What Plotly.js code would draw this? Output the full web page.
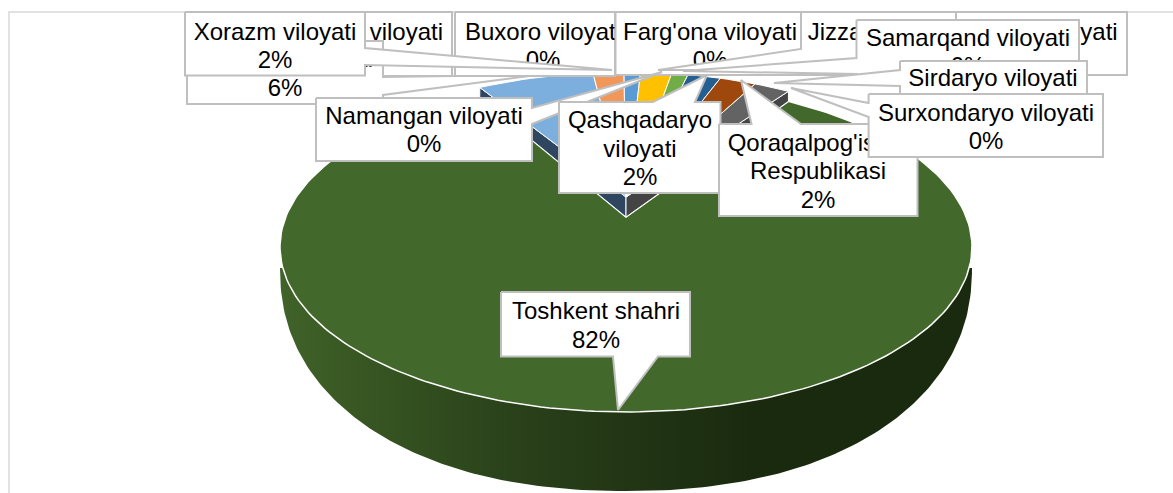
<!DOCTYPE html>
<html>
<head>
<meta charset="utf-8">
<script src="https://cdn.plot.ly/plotly-3.0.1.min.js"></script>
<style>html,body{margin:0;padding:0;background:#fff}</style>
</head>
<body>
<div id="chart" style="width:1173px;height:493px"></div>
<script>
// Data: slices on the small wedge, clockwise from its left edge
const wedgeRegions = ["Toshkent viloyati","Xorazm viloyati","Andijon viloyati","Qashqadaryo viloyati","Buxoro viloyati","Namangan viloyati","Qoraqalpog'iston Respublikasi","Surxondaryo viloyati"];
const wedgeValues = [6.4,1.7,0.9,1.7,0.9,1.8,2.0,2.0];
const wedgeColors = ["#7CAFDD","#F1975A","#5B9BD5","#FFC000","#70AD47","#255E91","#9E480E","#636363"];
const mainRegion = "Toshkent shahri";
const mainValue = 82;
const mainColor = "#43682B";

// Data labels, bottom-most first, with the percentage shown in the picture
const labelNames = [["Andijon viloyati"],["Toshkent viloyati"],["Buxoro viloyati"],["Farg'ona viloyati"],["Jizzax viloyati"],["Navoiy viloyati"],["Xorazm viloyati"],["Namangan viloyati"],["Qashqadaryo","viloyati"],["Qoraqalpog'iston","Respublikasi"],["Samarqand viloyati"],["Sirdaryo viloyati"],["Surxondaryo viloyati"],["Toshkent shahri"]];
const labelPercents = ["0%","6%","0%","0%","0%","0%","2%","0%","2%","2%","0%","0%","0%","82%"];

// Callout geometry in page pixels: box, text centre, optional tail
const labelBoxes = [
 {b:[273,12,452,76],c:[363,46]},
 {b:[187,41,383,104],c:[285,73.5],edge:'r',t:[[383,77],[537,75],[383,95]]},
 {b:[455,12,615,76],c:[543,46]},
 {b:[615.5,12,801,75],c:[710,46]},
 {b:[801,12,961,75],c:[881,46],edge:'l',t:[[801,70],[658,70],[801,49]]},
 {b:[956,12,1127,75],c:[1041,46]},
 {b:[185,12,365,75.5],c:[275,46],edge:'r',t:[[365,48],[612,70],[365,65]]},
 {b:[316,98,532,161],c:[424,130],edge:'r',t:[[532,108],[662,72],[532,124]]},
 {b:[559,102,720.5,193],c:[640,148.5],edge:'t',t:[[653,102],[707,75],[695,102]]},
 {b:[719,124,917.5,216],c:[818,171],edge:'t',t:[[751.5,124],[741,80],[801,124]]},
 {b:[856.5,20,1079,83],c:[968,52],edge:'l',t:[[856.5,74],[683,71],[856.5,58]]},
 {b:[900,61,1087,124],c:[993,92],edge:'l',t:[[900,86],[774,83],[900,70]]},
 {b:[868.6,94,1103,157],c:[986,127],edge:'l',t:[[868.6,117],[791,88],[868.6,103]]},
 {b:[501,292,690,356.5],c:[596,325.5],edge:'b',t:[[658,356.5],[618,410],[613,356.5]]}
];
const lineStep = 28.5;
const textShift = 2;

// Projection of the tilted pie in page pixels
const P = {cx:626, cy:247, rx:346, ry:165, wedgeCy:237, apexTop:197, apexBottom:217,
           tStart:-25, tSpan:53, sideCy:268, sideRy:223, sideN:2.2};
const rad = d => d*Math.PI/180;
const rim = (t,cy) => [P.cx+P.rx*Math.sin(rad(t)), cy-P.ry*Math.cos(rad(t))];
const arc = (t0,t1,cy) => { const o=[], n=Math.max(2,Math.ceil(Math.abs(t1-t0)/1.5));
  for(let i=0;i<=n;i++) o.push(rim(t0+(t1-t0)*i/n,cy)); return o; };
const poly = (pts,fill,line,width,extra) => Object.assign({
  type:'scatter',mode:'lines',x:pts.map(p=>p[0]),y:pts.map(p=>p[1]),fill:'toself',fillcolor:fill,
  line:{color:line,width:width},hoverinfo:'skip',showlegend:false},extra||{});

const traces = [];

// Frame
traces.push({type:'scatter',mode:'lines',x:[9,9,1173],y:[493,12,12],line:{color:'#D9D9D9',width:1.5},hoverinfo:'skip',showlegend:false});

// Cylinder side
const side=[];
for(let i=0;i<=180;i++){
  const a=rad(i), c=Math.cos(a), s=Math.sin(a);
  const e=2/P.sideN;
  side.push([P.cx-P.rx*Math.sign(c)*Math.pow(Math.abs(c),e), P.sideCy+P.sideRy*Math.pow(s,e)]);
}
traces.push(poly(side,'#2a4419','rgba(0,0,0,0)',0,{
  fillgradient:{type:'horizontal',colorscale:[[0,'#40632A'],[0.1,'#395823'],[0.35,'#29401A'],[0.68,'#1A2A0F'],[1,'#1A2A0F']]}}));

// Slice angles from the values
const wedgeSum = wedgeValues.reduce((a,b)=>a+b,0);
const angles=[P.tStart]; let cum=0;
wedgeValues.forEach(v=>{cum+=v; angles.push(P.tStart+cum/wedgeSum*P.tSpan);});
const tEnd = angles[angles.length-1];

// Big slice (its arc is everything the wedge does not take)
const mainArc = arc(tEnd, P.tStart+360, P.cy);
const apexLow=[P.cx,P.apexBottom], apexTop=[P.cx,P.apexTop];
traces.push(poly(mainArc.concat([apexLow]).concat([mainArc[0]]),mainColor,'#FFFFFF',1.5,{name:mainRegion}));

// Side faces of the wedge
const leftTop=rim(P.tStart,P.wedgeCy), rightTop=rim(tEnd,P.wedgeCy);
traces.push(poly([leftTop,apexTop,apexLow,rim(P.tStart,P.cy),leftTop],'#2F4660','#FFFFFF',1));
traces.push(poly([rightTop,apexTop,apexLow,rim(tEnd,P.cy),rightTop],'#444444','#FFFFFF',1));

// Wedge slices
wedgeValues.forEach((v,i)=>{
  const a=arc(angles[i],angles[i+1],P.wedgeCy);
  traces.push(poly([apexTop].concat(a).concat([apexTop]),wedgeColors[i],'#FFFFFF',1,{name:wedgeRegions[i]}));
});

// Callouts
labelBoxes.forEach((l,i)=>{
  const [x0,y0,x1,y1]=l.b, t=l.t||[];
  const pts=[[x0,y0]];
  if(l.edge==='t') pts.push(...t);
  pts.push([x1,y0]);
  if(l.edge==='r') pts.push(...t);
  pts.push([x1,y1]);
  if(l.edge==='b') pts.push(...t);
  pts.push([x0,y1]);
  if(l.edge==='l') pts.push(...t);
  pts.push([x0,y0]);
  traces.push(poly(pts,'#FFFFFF','#BFBFBF',2));
  const lines=labelNames[i].concat([labelPercents[i]]);
  traces.push({type:'scatter',mode:'text',x:lines.map(()=>l.c[0]),
    y:lines.map((_,k)=>l.c[1]+textShift+(k-(lines.length-1)/2)*lineStep),text:lines,
    textposition:'middle center',textfont:{family:'"Liberation Sans",Arial,sans-serif',size:24,color:'#000000'},
    hoverinfo:'skip',showlegend:false});
});

Plotly.newPlot('chart',traces,{
  width:1173,height:493,margin:{l:0,r:0,t:0,b:0},paper_bgcolor:'#FFFFFF',plot_bgcolor:'#FFFFFF',showlegend:false,
  xaxis:{range:[0,1173],visible:false,fixedrange:true},
  yaxis:{range:[493,0],visible:false,fixedrange:true}
},{displayModeBar:false,staticPlot:true});
</script>
</body>
</html>
